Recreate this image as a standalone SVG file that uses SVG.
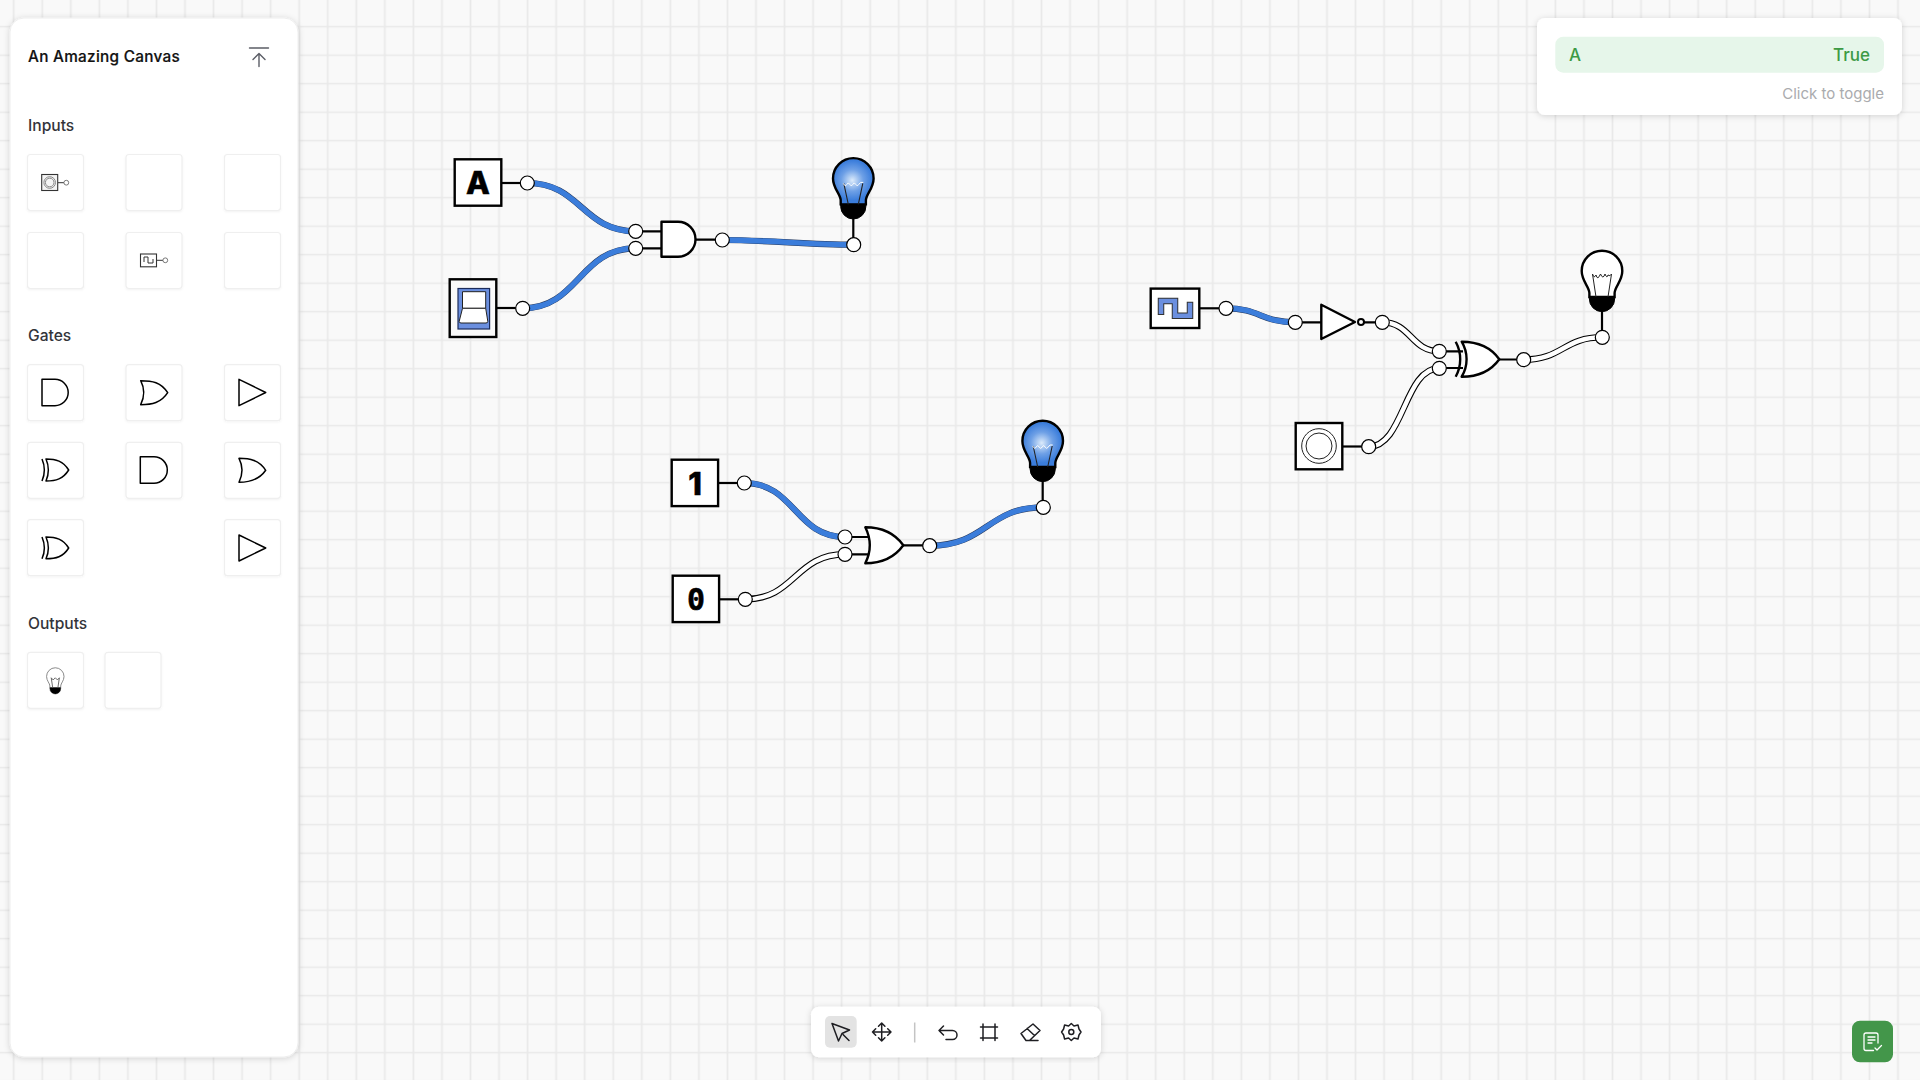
<svg xmlns="http://www.w3.org/2000/svg" width="1920" height="1080" viewBox="0 0 1920 1080">
<style>
text{font-family:Inter,"Liberation Sans",sans-serif}
.h{font-size:15.600px;font-weight:500;fill:#33343a}
.tile{fill:#fff;stroke:#efefef;stroke-width:1.2;filter:url(#ts)}
.box{fill:#fff;stroke:#000;stroke-width:2.4}
.stub{fill:none;stroke:#000;stroke-width:2.2}
.gate{fill:#fff;stroke:#000;stroke-width:2.4;stroke-linejoin:round}
.ic{fill:#fff;stroke:#000;stroke-width:1.5;stroke-linejoin:round}
.port{fill:#fff;stroke:#000;stroke-width:1.2}
.w{fill:none;stroke-linecap:butt}
.wo{stroke:#26385a;stroke-width:6.2}
.on{stroke:#3b7ddb;stroke-width:5.4}
.wf{stroke:#000;stroke-width:6.6}
.off{stroke:#fff;stroke-width:4.4}
.tool{fill:none;stroke:#1e1e22;stroke-width:1.5;stroke-linecap:round;stroke-linejoin:round}
.sym{font-weight:800;font-size:31px;fill:#000;stroke:#000;stroke-width:.5;text-anchor:middle}
</style>
<defs>
<pattern id="grid" patternUnits="userSpaceOnUse" x="-0.575" y="12.45" width="28.55" height="28.5">
<rect width="28.55" height="28.5" fill="#f9f9f9"/>
<path d="M14.275 0V28.5M0 14.25H28.55" stroke="#e9e9e9" stroke-width="1.7"/>
</pattern>
<filter id="ps" x="-10%" y="-10%" width="120%" height="120%"><feDropShadow dx="0" dy="1" stdDeviation="3" flood-color="#000" flood-opacity=".16"/></filter>
<filter id="ts" x="-20%" y="-20%" width="140%" height="140%"><feDropShadow dx="0" dy="1" stdDeviation="1.2" flood-color="#000" flood-opacity=".05"/></filter>
<radialGradient id="glow" gradientUnits="userSpaceOnUse" cx="-1" cy="2" r="20"><stop offset="0" stop-color="#dcebfb"/><stop offset=".55" stop-color="#6ea0e6"/><stop offset="1" stop-color="#3b7ddb"/></radialGradient>
<path id="bb" d="M-12.6 26V22C-12.6 16-20.3 10-20.3 0A20.3 20.3 0 1 1 20.3 0C20.3 10 12.6 16 12.6 22V26Z"/>
<path id="bs" d="M-12.6 26H12.6V28A12.6 12.6 0 0 1-12.6 28Z"/>
<g id="or-shape"><path d="M0 0C14 0 28 4 38 18C28 32 14 36 0 36C6 24 6 12 0 0Z"/></g>
<g id="xor-shape"><path d="M0 0C14 0 28 4 37.6 17.5C28 31 14 35 0 35C6.500 24 6.500 11 0 0Z"/><path d="M-6 0C0 11 0 24-6 35" fill="none"/></g>
</defs>

<rect width="1920" height="1080" fill="url(#grid)"/>

<g id="connectors">
<g class="w wo">
<path d="M527.300 183C581 183 582 231.300 635.700 231.300"/><path d="M522.700 308.300C579 308.300 579 248.300 635.700 248.300"/><path d="M722.300 240C770 240 806 244.700 853.700 244.700"/>
<path d="M744.300 483C795 483 795 537 845 537"/><path d="M929.700 545.700C987 545.700 987 507.300 1043.300 507.300"/><path d="M1226 308.300C1260 308.300 1261 322.300 1295.300 322.300"/>
</g>
<g class="w on">
<path d="M527.300 183C581 183 582 231.300 635.700 231.300"/><path d="M522.700 308.300C579 308.300 579 248.300 635.700 248.300"/><path d="M722.300 240C770 240 806 244.700 853.700 244.700"/>
<path d="M744.300 483C795 483 795 537 845 537"/><path d="M929.700 545.700C987 545.700 987 507.300 1043.300 507.300"/><path d="M1226 308.300C1260 308.300 1261 322.300 1295.300 322.300"/>
</g>
<g class="w wf">
<path d="M745.300 599.300C795 599.300 795 554.300 845 554.300"/><path d="M1382.300 322.300C1411 322.300 1411 351.300 1439.300 351.300"/><path d="M1368.700 446.700C1404 446.700 1404 368.300 1439.300 368.300"/><path d="M1523.700 359.700C1563 359.700 1563 337.300 1602.300 337.300"/>
</g>
<g class="w off">
<path d="M745.300 599.300C795 599.300 795 554.300 845 554.300"/><path d="M1382.300 322.300C1411 322.300 1411 351.300 1439.300 351.300"/><path d="M1368.700 446.700C1404 446.700 1404 368.300 1439.300 368.300"/><path d="M1523.700 359.700C1563 359.700 1563 337.300 1602.300 337.300"/>
</g>
</g>

<g id="node-input-a">
<path class="stub" d="M501 183H527"/><rect class="box" x="454.700" y="159.300" width="46.600" height="46.400"/>
<text class="sym" x="478" y="193.500">A</text><circle class="port" cx="527.300" cy="183" r="7"/>
</g>
<g id="node-switch">
<path class="stub" d="M496 308H522"/><rect x="449.700" y="279.300" width="46.600" height="57.700" fill="#f9f9f9" stroke="#000" stroke-width="2.400"/>
<rect x="458" y="288.500" width="31.600" height="40.500" fill="#6b8fdf" stroke="#1c2c5a" stroke-width="1.200"/>
<path d="M462.500 308.300V291.700H485.700V308.300Z" fill="#fff" stroke="#222" stroke-width="1"/>
<path d="M462.500 308.300H485.700L487.800 321.300Q487.800 323 486 323H461Q459.200 323 459.200 321.300Z" fill="#fff" stroke="#222" stroke-width="1"/>
<circle class="port" cx="522.700" cy="308.300" r="7"/>
</g>
<g id="node-and">
<path class="stub" d="M636 231.300H662M636 248.300H662M696 239.700H722"/>
<path class="gate" d="M661.500 221.700H678A17.500 17.500 0 0 1 678 256.700H661.500Z"/>
<circle class="port" cx="635.700" cy="231.300" r="7"/><circle class="port" cx="635.700" cy="248.300" r="7"/><circle class="port" cx="722.300" cy="240" r="7"/>
</g>
<g id="node-lamp-1" transform="translate(853.300 178.400)">
<path class="stub" d="M0 40V66"/><use href="#bb" fill="url(#glow)" stroke="#000" stroke-width="2.400"/><use href="#bs" fill="#000" stroke="#000" stroke-width="1"/>
<path d="M-9.500 5L-5 26M9.500 5L5 26" stroke="#222" stroke-width="1.100" fill="none"/>
<path d="M-10 5Q-8 9-6.500 6Q-5 3-3.500 6Q-2 9-.500 6Q1 3 2.500 6Q4 9 5.500 6Q7 3 10 4" stroke="#fff" stroke-width="1" fill="none"/>
<circle class="port" cx="0.400" cy="66.300" r="7"/>
</g>

<g id="node-input-1">
<path class="stub" d="M718 483H744"/><rect class="box" x="671.700" y="459.700" width="46.400" height="46.400"/>
<text class="sym" x="695" y="494.500">1</text><circle class="port" cx="744.300" cy="483" r="7"/>
</g>
<g id="node-input-0">
<path class="stub" d="M719 599.300H745"/><rect class="box" x="672.700" y="575.700" width="46.400" height="46.400"/>
<text class="sym" style="font-family:'DejaVu Sans Mono',monospace;font-weight:700;font-size:30px" x="696" y="610">0</text><circle class="port" cx="745.300" cy="599.300" r="7"/>
</g>
<g id="node-or">
<path class="stub" d="M845 537H872M845 554.300H872M903 545.300H930"/>
<use href="#or-shape" class="gate" transform="translate(865.300 527.300)"/>
<circle class="port" cx="845" cy="537" r="7"/><circle class="port" cx="845" cy="554.300" r="7"/><circle class="port" cx="929.700" cy="545.700" r="7"/>
</g>
<g id="node-lamp-2" transform="translate(1042.700 441)">
<path class="stub" d="M0 40V66"/><use href="#bb" fill="url(#glow)" stroke="#000" stroke-width="2.400"/><use href="#bs" fill="#000" stroke="#000" stroke-width="1"/>
<path d="M-9.500 5L-5 26M9.500 5L5 26" stroke="#222" stroke-width="1.100" fill="none"/>
<path d="M-10 5Q-8 9-6.500 6Q-5 3-3.500 6Q-2 9-.500 6Q1 3 2.500 6Q4 9 5.500 6Q7 3 10 4" stroke="#fff" stroke-width="1" fill="none"/>
<circle class="port" cx="0.600" cy="66.300" r="7"/>
</g>

<g id="node-clock">
<path class="stub" d="M1199 308.300H1226"/><rect class="box" x="1150.700" y="288.600" width="48.600" height="39.400"/>
<path d="M1161 311.700V301H1175V315.700H1190V305" fill="none" stroke="#333" stroke-width="6.500" stroke-linecap="square"/>
<path d="M1161 311.700V301H1175V315.700H1190V305" fill="none" stroke="#6b8fdf" stroke-width="4.500" stroke-linecap="square"/>
<circle class="port" cx="1226" cy="308.300" r="7"/>
</g>
<g id="node-not">
<path class="stub" d="M1295 322.300H1322M1358 322.300H1382"/>
<path class="gate" d="M1321.300 304.700L1355 322L1321.300 339Z"/><circle cx="1361" cy="322" r="3" fill="#fff" stroke="#000" stroke-width="2"/>
<circle class="port" cx="1295.300" cy="322.300" r="7"/><circle class="port" cx="1382.300" cy="322.300" r="7"/>
</g>
<g id="node-button">
<path class="stub" d="M1342 446.500H1369"/><rect class="box" x="1295.700" y="423" width="46.600" height="46.300"/>
<circle cx="1319" cy="446" r="17.300" fill="none" stroke="#222" stroke-width="1"/><circle cx="1319" cy="446" r="13" fill="none" stroke="#222" stroke-width="1"/>
<circle class="port" cx="1368.700" cy="446.700" r="7"/>
</g>
<g id="node-xor">
<path class="stub" d="M1439 351.300H1463M1439 368H1463M1499 359.500H1524"/>
<use href="#xor-shape" class="gate" transform="translate(1461.700 341.700)"/>
<circle class="port" cx="1439.300" cy="351.300" r="7"/><circle class="port" cx="1439.300" cy="368.300" r="7"/><circle class="port" cx="1523.700" cy="359.700" r="7"/>
</g>
<g id="node-lamp-3" transform="translate(1602 271)">
<path class="stub" d="M0 40V66"/><use href="#bb" fill="#fff" stroke="#000" stroke-width="2.400"/><use href="#bs" fill="#000" stroke="#000" stroke-width="1"/>
<path d="M-9.500 3L-6 26M9.500 3L6 26" stroke="#222" stroke-width="1" fill="none"/>
<path d="M-9.500 3Q-8 8-6 4Q-4.500 10-1.500 3Q1 9 3 3Q5 8 6 4Q8 6 9.500 3" stroke="#222" stroke-width="1" fill="none"/>
<circle class="port" cx="0.300" cy="66.300" r="7"/>
</g>

<g id="sidebar">
<rect x="10" y="18" width="288" height="1039" rx="14" fill="#fff" stroke="#eee" filter="url(#ps)"/>
<text x="28" y="62" font-size="15.300" font-weight="500" stroke="#111" stroke-width=".2" fill="#111" letter-spacing=".3">An Amazing Canvas</text>
<path d="M249.500 48H268.500M259 66.500V53.500M253 59.500L259 53.500L265 59.500" fill="none" stroke="#5b5d66" stroke-width="1.400" stroke-linecap="round" stroke-linejoin="round"/>
<text class="h" x="28" y="131">Inputs</text><text class="h" x="28" y="341">Gates</text><text class="h" x="28" y="629">Outputs</text>
<g id="tiles">
<rect class="tile" x="27.500" y="154.500" width="56" height="56" rx="3"/><rect class="tile" x="126" y="154.500" width="56" height="56" rx="3"/><rect class="tile" x="224.500" y="154.500" width="56" height="56" rx="3"/>
<rect class="tile" x="27.500" y="232.500" width="56" height="56" rx="3"/><rect class="tile" x="126" y="232.500" width="56" height="56" rx="3"/><rect class="tile" x="224.500" y="232.500" width="56" height="56" rx="3"/>
<rect class="tile" x="27.500" y="364.700" width="56" height="56" rx="3"/><rect class="tile" x="126" y="364.700" width="56" height="56" rx="3"/><rect class="tile" x="224.500" y="364.700" width="56" height="56" rx="3"/>
<rect class="tile" x="27.500" y="442.300" width="56" height="56" rx="3"/><rect class="tile" x="126" y="442.300" width="56" height="56" rx="3"/><rect class="tile" x="224.500" y="442.300" width="56" height="56" rx="3"/>
<rect class="tile" x="27.500" y="519.700" width="56" height="56" rx="3"/><rect class="tile" x="224.500" y="519.700" width="56" height="56" rx="3"/>
<rect class="tile" x="27.500" y="652.300" width="56" height="56" rx="3"/><rect class="tile" x="105" y="652.300" width="56" height="56" rx="3"/>
</g>
<g id="tile-icons">
<g fill="none" stroke="#444" stroke-width="1">
<rect x="41.700" y="174.500" width="16" height="16" fill="#f4f4f4" stroke="#333" stroke-width="1.100"/><circle cx="49.700" cy="182.500" r="5.800" stroke="#888"/><circle cx="49.700" cy="182.500" r="4.300" stroke="#888"/>
<path d="M58 182.700H64" stroke="#333"/><circle cx="66.300" cy="182.700" r="2.400" stroke="#777"/>
<rect x="140.500" y="254" width="16" height="12.800" fill="#fff" stroke="#333" stroke-width="1.100"/><path d="M144 262V257H148V263H153V259" stroke="#333"/>
<path d="M157 260.300H163" stroke="#333"/><circle cx="165.300" cy="260.300" r="2.400" stroke="#777"/>
</g>
<path class="ic" d="M42 379.300H55A13.200 13.200 0 0 1 55 405.700H42Z"/>
<path class="ic" d="M140.700 380.700C152 380.700 161 382 167.700 392.700C161 403 152 404.700 140.700 404.700C145 396 145 389 140.700 380.700Z"/>
<path class="ic" d="M239 379.300L265.700 392.500L239 405.700Z"/>
<path class="ic" d="M46 459C56 459 63 461 68.700 470C63 479 56 481 46 481C49 474 49 466 46 459ZM42 459C45 466 45 474 42 481" />
<path class="ic" d="M140.300 456.700H154A13.300 13.300 0 0 1 154 483.300H140.300Z"/>
<path class="ic" d="M239 458.300C250 458.300 259 460 265.700 470.300C259 480 250 482.300 239 482.300C243 474 243 466 239 458.300Z"/>
<path class="ic" d="M46 537C56 537 63 539 68.700 548C63 557 56 558.700 46 558.700C49 552 49 544 46 537ZM42 537C45 544 45 552 42 558.700"/>
<path class="ic" d="M239 535L265.700 548L239 561Z"/>
<g transform="translate(55.300 676.500) scale(.43)">
<use href="#bb" fill="#fff" stroke="#777" stroke-width="2"/><use href="#bs" fill="#000" stroke="#000"/><path d="M-9.500 3L-6 26M9.500 3L6 26M-9.500 3L-5 8L0 3L5 8L9.500 3" stroke="#555" stroke-width="2" fill="none"/>
</g>
</g>
</g>

<g id="toggle-panel">
<rect x="1537" y="18" width="365" height="97" rx="8" fill="#fff" filter="url(#ps)"/>
<rect x="1555.300" y="36.700" width="328.700" height="36" rx="8" fill="#e6f6ea"/>
<text x="1569" y="60.500" font-size="17" font-weight="500" fill="#3d9a45">A</text>
<text x="1870" y="60.500" font-size="17" font-weight="500" fill="#3d9a45" text-anchor="end">True</text>
<text x="1884" y="98.500" font-size="15" fill="#aaabae" text-anchor="end">Click to toggle</text>
</g>

<g id="toolbar">
<rect x="811" y="1006.700" width="290" height="50.600" rx="8" fill="#fff" filter="url(#ps)"/>
<rect x="825" y="1016" width="31.700" height="31.700" rx="5" fill="#e3e3e3"/>
<path class="tool" d="M832 1023.500L849.500 1030L842 1033.500L838.500 1041Z"/><path class="tool" d="M843 1034.500L849 1040.500"/>
<path class="tool" d="M881.700 1023V1041M872.500 1032H891M878.500 1026.200L881.700 1023L884.900 1026.200M878.500 1037.800L881.700 1041L884.900 1037.800M875.700 1028.800L872.500 1032L875.700 1035.200M887.700 1028.800L891 1032L887.700 1035.200"/>
<path d="M914.700 1022.500V1042.500" stroke="#c4c4c4" stroke-width="1.500"/>
<path class="tool" d="M943.500 1026L939 1030.500L943.500 1035M939 1030.500H952.500A4.500 4.500 0 0 1 952.500 1039.500H946"/>
<path class="tool" d="M983 1024V1040.500M995 1024V1040.500M980.500 1027H997.500M980.500 1038H997.500"/>
<path class="tool" d="M1021 1033.500L1033 1024L1040 1030.500L1029.500 1040.500L1026 1040.500ZM1027 1028.500L1034.500 1035.500M1029.500 1040.500H1038"/>
<path class="tool" d="M1071.300 1023.500L1074 1026L1078 1025L1079 1029L1081 1032L1079 1035L1078 1039L1074 1038L1071.300 1040.500L1068.600 1038L1064.600 1039L1063.600 1035L1061.600 1032L1063.600 1029L1064.600 1025L1068.600 1026Z"/><circle class="tool" cx="1071.300" cy="1032" r="2.500"/>
</g>

<g id="notes-button">
<rect x="1852" y="1020.700" width="41" height="41.600" rx="8" fill="#43964a"/>
<path d="M1873.500 1050.500H1866A2 2 0 0 1 1864 1048.500V1035A2 2 0 0 1 1866 1033H1876A2 2 0 0 1 1878 1035V1043M1868 1037H1875M1868 1040H1875M1868 1043H1872M1875 1048L1877 1050L1881.500 1045.500" fill="none" stroke="#fff" stroke-width="1.300" stroke-linecap="round" stroke-linejoin="round"/>
</g>
</svg>
